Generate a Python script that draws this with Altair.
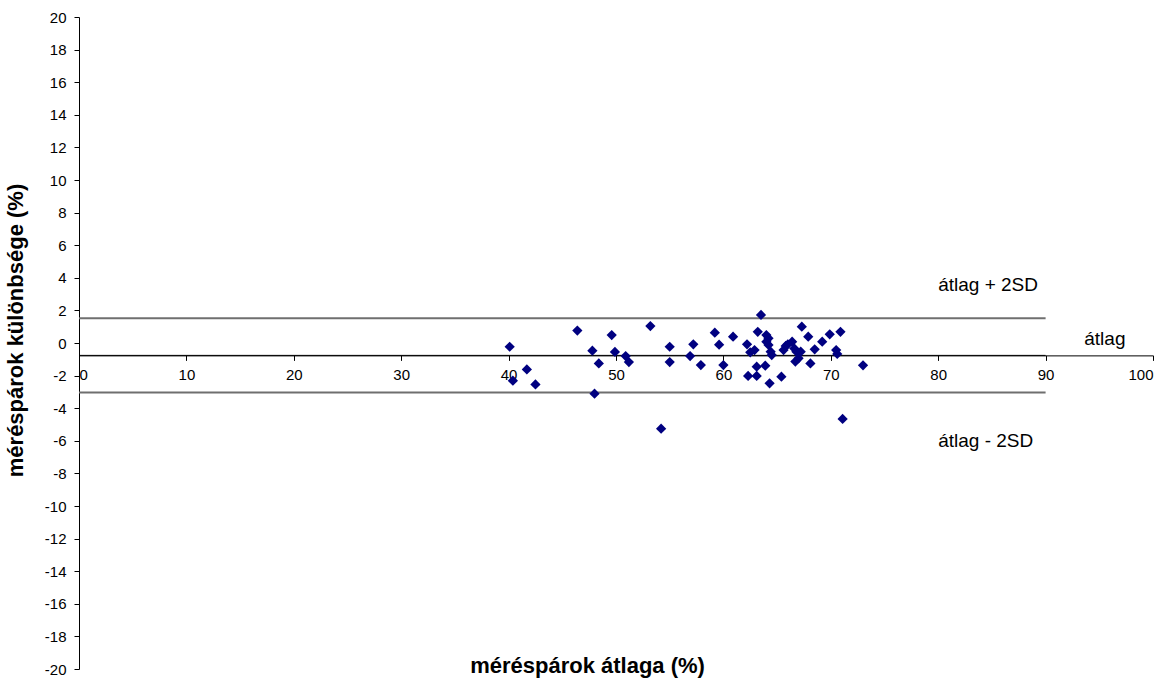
import altair as alt
import pandas as pd

# Bland–Altman plot: mean of each measurement pair vs. their difference
pair_mean = [
    40.1, 40.4, 41.7, 42.5, 46.4, 47.8, 48.4, 48.0, 49.6, 49.9,
    50.9, 51.2, 53.2, 55.0, 55.0, 54.2, 57.2, 56.9, 57.9, 59.2,
    59.6, 60.0, 60.9, 62.2, 62.5, 62.9, 62.3, 63.1, 63.1, 63.9,
    63.5, 63.2, 64.0, 64.2, 64.0, 64.2, 64.4, 64.5, 64.3, 65.4,
    65.8, 65.6, 66.0, 66.4, 66.6, 66.8, 67.2, 67.3, 67.0, 66.7,
    67.9, 68.1, 68.5, 69.2, 69.9, 70.9, 70.5, 70.6, 73.0, 71.1,
]
pair_diff = [
    -0.23, -2.31, -1.62, -2.54, 0.76, -0.47, -1.25, -3.11, 0.49, -0.55,
    -0.80, -1.17, 1.04, -0.23, -1.17, -5.26, -0.08, -0.80, -1.35, 0.63,
    -0.10, -1.35, 0.39, -0.08, -0.57, -0.43, -2.02, -2.02, -1.45, -1.39,
    1.72, 0.69, 0.49, 0.29, 0.08, -0.12, -0.53, -0.74, -2.47, -2.07,
    -0.18, -0.43, -0.08, 0.08, -0.33, -0.53, -0.53, 1.00, -0.94, -1.14,
    0.39, -1.25, -0.39, 0.08, 0.53, 0.69, -0.43, -0.67, -1.37, -4.66,
]

mean_diff = -0.76
sd_diff = 1.14
upper = mean_diff + 2 * sd_diff
lower = mean_diff - 2 * sd_diff

line_start = [0, 0, 0]
line_end = [90, 90, 90]
line_level = [upper, mean_diff, lower]
label_text = ["átlag + 2SD", "átlag", "átlag - 2SD"]
label_x = [80.0, 93.6, 80.0]

x_ticks = list(range(0, 101, 10))
y_ticks = list(range(-20, 21, 2))

W, H = 1074, 652
Y_MIN, Y_MAX = -20, 20
FONT = "Liberation Sans"

# the x axis crosses the y axis at the mean difference
axis_shift = H * (mean_diff - Y_MIN) / (Y_MAX - Y_MIN)

points = pd.DataFrame({"atlag": pair_mean, "kulonbseg": pair_diff})
lines = pd.DataFrame({"x0": line_start, "x1": line_end, "level": line_level})
labels = pd.DataFrame({"x": label_x, "level": line_level, "text": label_text})

x_scale = alt.Scale(domain=[0, 100], nice=False, zero=False)
y_scale = alt.Scale(domain=[Y_MIN, Y_MAX], nice=False, zero=False)

# plain hyphen-minus in tick labels
plain_label = "'' + datum.value"

x_axis = alt.Axis(
    title="méréspárok átlaga (%)",
    values=x_ticks, grid=False, offset=-axis_shift, labelOverlap=False,
    labelExpr=plain_label,
    domainColor="black", tickColor="black", tickSize=5,
    labelColor="black", labelFont=FONT, labelFontSize=15, labelPadding=7,
    titleFont=FONT, titleFontSize=22, titleFontWeight="bold", titleColor="black",
    titleX=508, titleY=axis_shift + 3, titleAlign="center", titleBaseline="alphabetic",
)
y_axis = alt.Axis(
    title="méréspárok különbsége (%)",
    values=y_ticks, grid=False, labelOverlap=False,
    labelExpr=plain_label,
    domainColor="black", tickColor="black", tickSize=5,
    labelColor="black", labelFont=FONT, labelFontSize=15, labelPadding=8,
    titleFont=FONT, titleFontSize=22, titleFontWeight="bold", titleColor="black",
    titleX=-57, titleY=313, titleAngle=270, titleAlign="center", titleBaseline="alphabetic",
)


def xy(xfield, yfield):
    return dict(
        x=alt.X(f"{xfield}:Q", scale=x_scale, axis=x_axis),
        y=alt.Y(f"{yfield}:Q", scale=y_scale, axis=y_axis),
    )


scatter = alt.Chart(points).mark_point(
    shape="diamond", filled=True, color="#000080", size=105, opacity=1
).encode(**xy("atlag", "kulonbseg"))

sd_lines = alt.Chart(lines.iloc[[0, 2]]).mark_rule(color="#6f6f6f", strokeWidth=2).encode(
    x2="x1:Q", **xy("x0", "level")
)
mean_line = alt.Chart(lines.iloc[[1]]).mark_rule(color="black", strokeWidth=1).encode(
    x2="x1:Q", **xy("x0", "level")
)

label_dy = [-27, -10, 54]
texts = [
    alt.Chart(labels.iloc[[i]]).mark_text(
        align="left", baseline="alphabetic", dy=label_dy[i],
        font=FONT, fontSize=19, color="black",
    ).encode(text="text:N", **xy("x", "level"))
    for i in range(3)
]

chart = alt.layer(sd_lines, mean_line, scatter, *texts).properties(
    width=W, height=H,
    autosize=alt.AutoSizeParams(type="none"),
    padding={"left": 79, "top": 17, "right": 18, "bottom": 11},
    background="white",
).configure_view(stroke=None)

chart.save("out.html", embed_options={"renderer": "svg", "actions": False})
